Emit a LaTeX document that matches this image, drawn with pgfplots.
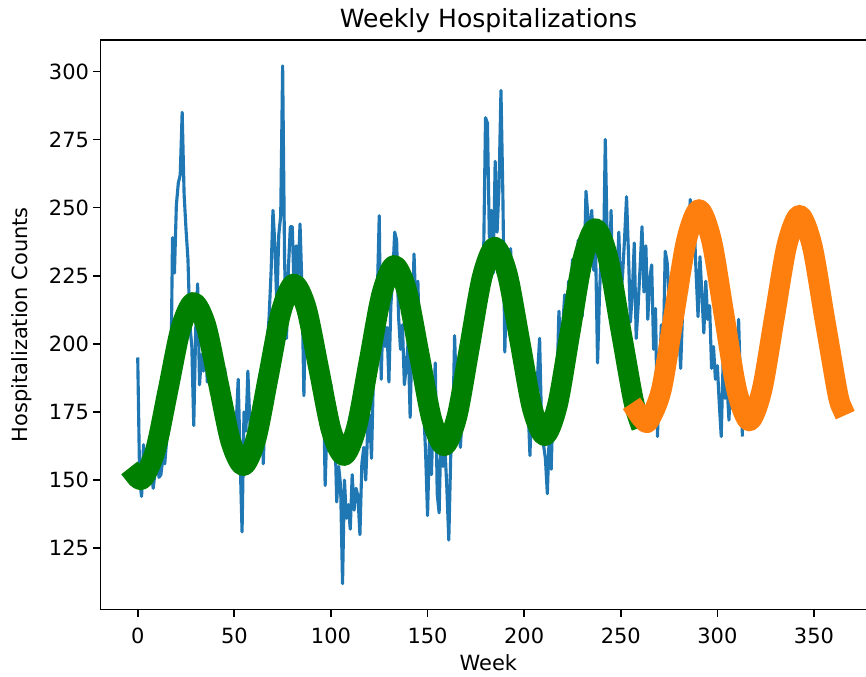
\documentclass[border=0pt]{standalone}
\usepackage{fontspec}
\setmainfont{DejaVu Sans}
\usepackage{pgfplots}
\pgfplotsset{compat=1.18}
\definecolor{mplblue}{HTML}{1F77B4}
\definecolor{mplgreen}{HTML}{008000}
\definecolor{mplorange}{HTML}{FF7F0E}
\begin{document}
\begin{tikzpicture}
\begin{axis}[
  scale only axis, width=581.8pt, height=427.1pt,
  xmin=-19.25, xmax=382.25, ymin=102.5, ymax=311.5,
  axis line style={line width=1.25pt, black},
  xtick={0,50,...,350}, ytick={125,150,...,300},
  tick align=outside, tick pos=left,
  major tick length=5.5pt,
  every tick/.style={black, line width=1.25pt},
  /pgf/number format/assume math mode=true,
  tick label style={font=\fontsize{15.7}{18}\selectfont},
  xticklabel style={inner sep=0pt, yshift=-7.9pt},
  yticklabel style={inner sep=0pt, xshift=-3pt},
  every axis title/.style={at={(axis description cs:0.5,1)}, anchor=base, yshift=9.4pt, inner sep=0pt, font=\fontsize{18.8}{22}\selectfont},
  every axis x label/.style={at={(axis description cs:0.5,0)}, anchor=base, yshift=-45.4pt, inner sep=0pt, font=\fontsize{15.7}{18}\selectfont},
  every axis y label/.style={at={(axis description cs:0,0.5)}, xshift=-54.4pt, rotate=90, anchor=base, inner sep=0pt, font=\fontsize{15.7}{18}\selectfont},
  title={Weekly Hospitalizations},
  xlabel={Week},
  ylabel={Hospitalization Counts},
]
\addplot[mplblue, line width=2.35pt, line join=round] coordinates {
(0,195)(1,150)(2,144)(3,163)(4,152)(5,158)(6,149)(7,155)(8,147)(9,153)
(10,160)(11,151)(12,152)(13,158)(14,156)(15,165)(16,168)(17,176)(18,239)(19,226)
(20,251)(21,259)(22,262)(23,285)(24,255)(25,242)(26,231)(27,207)(28,199)(29,170)
(30,205)(31,222)(32,185)(33,196)(34,190)(35,203)(36,186)(37,192)(38,198)(39,183)
(40,194)(41,187)(42,178)(43,189)(44,181)(45,191)(46,174)(47,182)(48,169)(49,176)
(50,162)(51,171)(52,187)(53,158)(54,131)(55,175)(56,168)(57,190)(58,172)(59,160)
(60,163)(61,174)(62,159)(63,168)(64,177)(65,156)(66,181)(67,199)(68,210)(69,226)
(70,249)(71,236)(72,214)(73,240)(74,247)(75,302)(76,231)(77,202)(78,228)(79,243)
(80,243)(81,218)(82,236)(83,225)(84,244)(85,221)(86,181)(87,219)(88,206)(89,198)
(90,212)(91,190)(92,196)(93,183)(94,187)(95,176)(96,192)(97,148)(98,171)(99,166)
(100,185)(101,162)(102,170)(103,142)(104,155)(105,148)(106,112)(107,150)(108,136)(109,141)
(110,132)(111,152)(112,139)(113,147)(114,144)(115,130)(116,156)(117,162)(118,150)(119,168)
(120,174)(121,158)(122,189)(123,201)(124,218)(125,247)(126,187)(127,213)(128,199)(129,206)
(130,186)(131,214)(132,225)(133,241)(134,238)(135,210)(136,198)(137,207)(138,185)(139,192)
(140,201)(141,173)(142,205)(143,233)(144,212)(145,223)(146,196)(147,188)(148,176)(149,160)
(150,137)(151,165)(152,152)(153,174)(154,193)(155,145)(156,138)(157,170)(158,155)(159,162)
(160,147)(161,128)(162,159)(163,166)(164,203)(165,180)(166,173)(167,162)(168,175)(169,188)
(170,192)(171,184)(172,199)(173,210)(174,205)(175,196)(176,214)(177,222)(178,208)(179,231)
(180,283)(181,281)(182,239)(183,249)(184,226)(185,267)(186,241)(187,258)(188,293)(189,254)
(190,197)(191,226)(192,213)(193,235)(194,204)(195,222)(196,217)(197,191)(198,203)(199,210)
(200,186)(201,194)(202,178)(203,159)(204,182)(205,176)(206,168)(207,189)(208,202)(209,171)
(210,163)(211,158)(212,145)(213,167)(214,154)(215,179)(216,172)(217,186)(218,212)(219,195)
(220,207)(221,218)(222,199)(223,223)(224,214)(225,231)(226,209)(227,226)(228,238)(229,218)
(230,210)(231,224)(232,256)(233,247)(234,238)(235,249)(236,227)(237,234)(238,193)(239,218)
(240,236)(241,229)(242,275)(243,238)(244,221)(245,249)(246,213)(247,230)(248,222)(249,241)
(250,217)(251,226)(252,239)(253,254)(254,233)(255,208)(256,219)(257,237)(258,202)(259,214)
(260,228)(261,243)(262,219)(263,236)(264,209)(265,224)(266,229)(267,198)(268,213)(269,166)
(270,188)(271,207)(272,196)(273,234)(274,230)(275,218)(276,209)(277,227)(278,201)(279,214)
(280,206)(281,191)(282,212)(283,225)(284,219)(285,240)(286,253)(287,237)(288,244)(289,226)
(290,210)(291,232)(292,218)(293,204)(294,223)(295,209)(296,214)(297,191)(298,199)(299,187)
(300,192)(301,178)(302,166)(303,194)(304,180)(305,185)(306,172)(307,189)(308,176)(309,181)
(310,193)(311,209)(312,183)(313,166)
};
\addplot[mplgreen, line width=15.5pt, line join=round, line cap=rect, smooth] coordinates {
(-1,151.5)(2.7,150.5)(9.2,161.0)(15.7,183.1)(22.2,205.4)(28.7,215.2)(35.2,207.0)(41.7,185.7)
(48.2,164.1)(54.7,155.3)(61.2,165.1)(67.7,188.3)(74.2,211.7)(80.7,222.0)(87.2,213.3)(93.7,190.9)
(100.2,168.2)(106.7,159.0)(113.2,169.2)(119.7,193.5)(126.2,218.0)(132.7,228.8)(139.2,219.6)(145.7,196.1)
(152.2,172.3)(158.7,162.6)(165.2,173.3)(171.7,198.7)(178.2,224.3)(184.7,235.5)(191.2,225.9)(197.7,201.3)
(204.2,176.4)(210.7,166.3)(217.2,177.4)(223.7,203.9)(230.2,230.6)(236.7,242.3)(243.2,232.2)(249.7,206.5)
(256.2,180.5)(259,173)
};
\addplot[mplorange, line width=15.5pt, line join=round, line cap=rect, smooth] coordinates {
(258.5,175)(261.5,172.2)(264.5,171.7)(271,183.1)(277.5,210.5)(284,237.9)(290.5,249.3)(297,237.9)
(303.5,210.5)(310,183.1)(316.5,171.7)(323,182.8)(329.5,209.5)(336,236.2)(342.5,247.2)(349,236.2)
(355.5,209.5)(362,182.8)(364,177.3)
};
\end{axis}
\pgfresetboundingbox
\path[use as bounding box] (current axis.south west) ++(-75.4pt,-50.6pt) rectangle ++(649.5pt,507.75pt);
\end{tikzpicture}
\end{document}
